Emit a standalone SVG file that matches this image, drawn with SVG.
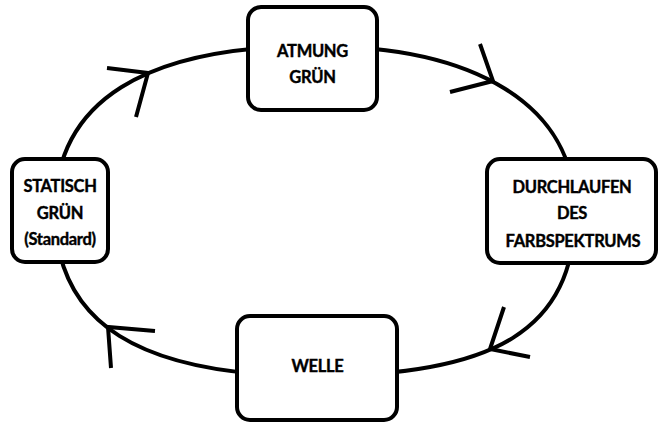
<svg xmlns="http://www.w3.org/2000/svg" width="660" height="422" viewBox="0 0 660 422">
<style>
.box{fill:#fff;stroke:#000;stroke-width:4}
.t{font-family:Lato,"Open Sans","Liberation Sans",sans-serif;font-weight:700;font-size:16.5px;fill:#000;stroke:#000;stroke-width:0.4;letter-spacing:-0.3px;text-anchor:middle}
.c{fill:none;stroke:#000;stroke-width:4}
.a{fill:none;stroke:#000;stroke-width:4;stroke-linejoin:miter;stroke-linecap:butt}
</style>
<rect width="660" height="422" fill="#fff"/>
<g id="connectors">
<path class="c" d="M 55 211 C 55 101 145 46 315 46 C 475 46 575 105 575 211 C 575 330 495 376 315 376 C 140 376 55 324 55 211 Z"/>
<polyline class="a" points="107,68 148,73 136,117"/>
<polyline class="a" points="480,44 493,81 450,92"/>
<polyline class="a" points="504,307 490,349 530,357"/>
<polyline class="a" points="155,331 108,327 111,368"/>
</g>
<g id="atmung">
<rect class="box" x="248" y="7" width="129" height="103" rx="13"/>
<text class="t" x="312.5" y="57">ATMUNG</text>
<text class="t" x="312.5" y="83">GRÜN</text>
</g>
<g id="statisch">
<rect class="box" x="12" y="159" width="96" height="103" rx="13"/>
<text class="t" x="60" y="192">STATISCH</text>
<text class="t" x="60" y="219">GRÜN</text>
<text class="t" x="60" y="245">(Standard)</text>
</g>
<g id="farbspektrum">
<rect class="box" x="487" y="159" width="169" height="104" rx="13"/>
<text class="t" x="572" y="193">DURCHLAUFEN</text>
<text class="t" x="572" y="219">DES</text>
<text class="t" x="573" y="247">FARBSPEKTRUMS</text>
</g>
<g id="welle">
<rect class="box" x="237" y="316" width="160" height="104" rx="13"/>
<text class="t" x="317.5" y="372">WELLE</text>
</g>
</svg>
